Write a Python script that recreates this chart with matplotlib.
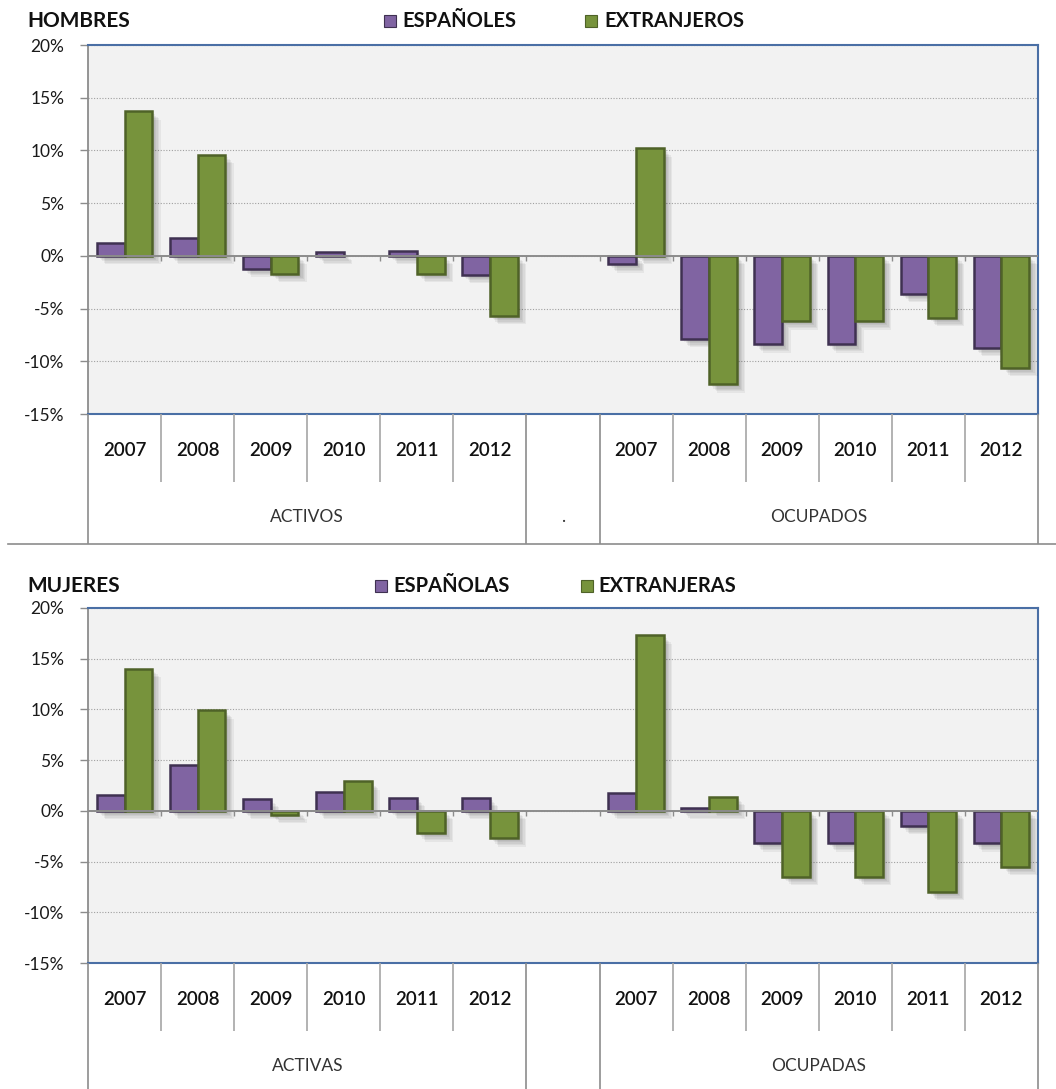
import matplotlib.pyplot as plt
import matplotlib.patheffects as pe
import numpy as np
from matplotlib.lines import Line2D
from matplotlib.patches import Rectangle

years = ["2007", "2008", "2009", "2010", "2011", "2012"]
yticks = [20, 15, 10, 5, 0, -5, -10, -15]

# HOMBRES
h_groups = ["ACTIVOS", ".", "OCUPADOS"]
h_legend = ["ESPAÑOLES", "EXTRANJEROS"]
h_act_esp = [1.2, 1.7, -1.2, 0.4, 0.5, -1.8]
h_act_ext = [13.7, 9.6, -1.7, 0.0, -1.7, -5.7]
h_ocu_esp = [-0.8, -7.9, -8.4, -8.4, -3.6, -8.7]
h_ocu_ext = [10.2, -12.2, -6.2, -6.2, -5.9, -10.6]

# MUJERES
m_groups = ["ACTIVAS", "", "OCUPADAS"]
m_legend = ["ESPAÑOLAS", "EXTRANJERAS"]
m_act_esp = [1.6, 4.5, 1.2, 1.9, 1.3, 1.3]
m_act_ext = [14.0, 9.9, -0.4, 2.9, -2.2, -2.7]
m_ocu_esp = [1.8, 0.3, -3.2, -3.2, -1.5, -3.2]
m_ocu_ext = [17.3, 1.4, -6.5, -6.5, -8.0, -5.5]

W, H = 1056, 1089
PURPLE, PURPLE_EDGE = "#8064A2", "#3F3151"
GREEN, GREEN_EDGE = "#77933C", "#4F6228"
BLUE = "#4A6FA5"
GREY = "#8C8C8C"
plt.rcParams["font.family"] = ["Lato", "DejaVu Sans"]

fig = plt.figure(figsize=(W / 100, H / 100), dpi=100)


def box(x0, y0, x1, y1):
    # pixel box (top-left origin) -> figure fraction rect
    return [x0 / W, 1 - y1 / H, (x1 - x0) / W, (y1 - y0) / H]


shadow = [pe.SimplePatchShadow(offset=(o, -o), shadow_rgbFace="k", alpha=0.05)
          for o in (2, 3, 4, 5, 6)] + [pe.Normal()]


def panel(top, bottom, title, title_y, legend, leg_pos, groups,
          act_esp, act_ext, ocu_esp, ocu_ext):
    ax = fig.add_axes(box(88, top, 1038, bottom))
    ax.set_facecolor("#F2F2F2")
    ax.set_xlim(0, 13)
    ax.set_ylim(-15, 20)

    bw = 0.38
    x = np.concatenate([np.arange(6), np.arange(7, 13)]) + 0.5
    esp = list(act_esp) + list(ocu_esp)
    ext = list(act_ext) + list(ocu_ext)
    b1 = ax.bar(x - bw / 2, esp, bw, color=PURPLE, edgecolor=PURPLE_EDGE,
                linewidth=1.8, zorder=3)
    b2 = ax.bar(x + bw / 2, ext, bw, color=GREEN, edgecolor=GREEN_EDGE,
                linewidth=1.8, zorder=3)
    for p in list(b1) + list(b2):
        if p.get_height() == 0:
            p.set_visible(False)
        p.set_path_effects(shadow)

    ax.axhline(0, color=GREY, lw=1.4, zorder=4)
    ax.vlines(np.arange(1, 13), -0.5, 0, color=GREY, lw=1, zorder=4)

    ax.set_yticks(yticks)
    ax.set_yticklabels([f"{v}%" for v in yticks])
    ax.yaxis.grid(True, ls=(0, (1, 1.5)), color="#A0A0A0", lw=0.8)
    ax.set_axisbelow(True)
    ax.set_xticks([])
    ax.tick_params(axis="y", length=6, width=1, color=GREY, pad=11,
                   labelsize=12.5, labelcolor="#1a1a1a")
    for s in ("top", "right", "bottom"):
        ax.spines[s].set_color(BLUE)
        ax.spines[s].set_linewidth(1.5)
    ax.spines["left"].set_color(GREY)
    ax.spines["left"].set_linewidth(1.3)

    # category axis box
    cax = fig.add_axes(box(88, bottom, 1038, bottom + 130))
    cax.set_xlim(0, 13)
    cax.set_ylim(0, 1)
    cax.axis("off")
    cax.vlines([0, 6, 7, 13], 0, 1, color=GREY, lw=1.2, clip_on=False)
    cax.vlines([1, 2, 3, 4, 5, 8, 9, 10, 11, 12], 0.48, 1, color="#A6A6A6",
               lw=1.2)
    for i, yr in enumerate(years):
        for off in (0.5, 7.5):
            cax.text(i + off, 0.72, yr, ha="center", va="center",
                     fontsize=13.5, fontweight="semibold", color="#111111")
    for xc, g in zip([3, 6.5, 10], groups):
        cax.text(xc, 0.21, g, ha="center", va="center", fontsize=12.5,
                 color="#333333")

    # title and legend
    fig.text(27 / W, 1 - title_y / H, title, ha="left", va="center",
             fontsize=15, fontweight="bold", color="#111111")
    for (sx, tx), label, fc, ec in zip(leg_pos, legend, [PURPLE, GREEN],
                                        [PURPLE_EDGE, GREEN_EDGE]):
        fig.patches.append(Rectangle((sx / W, 1 - (title_y + 6) / H),
                                     12 / W, 12 / H, facecolor=fc,
                                     edgecolor=ec, lw=0.8,
                                     transform=fig.transFigure))
        fig.text(tx / W, 1 - title_y / H, label, ha="left", va="center",
                 fontsize=14.5, fontweight="bold", color="#111111")
    return ax


panel(45, 414, "HOMBRES", 21, h_legend, [(384, 402), (585, 604)], h_groups,
      h_act_esp, h_act_ext, h_ocu_esp, h_ocu_ext)
panel(608, 963, "MUJERES", 586, m_legend, [(375, 393), (581, 598)], m_groups,
      m_act_esp, m_act_ext, m_ocu_esp, m_ocu_ext)

# separator between panels
fig.add_artist(Line2D([8 / W, 1], [1 - 544 / H] * 2, color=GREY, lw=1.2,
                      transform=fig.transFigure))

fig.savefig("out.png", dpi=100)
